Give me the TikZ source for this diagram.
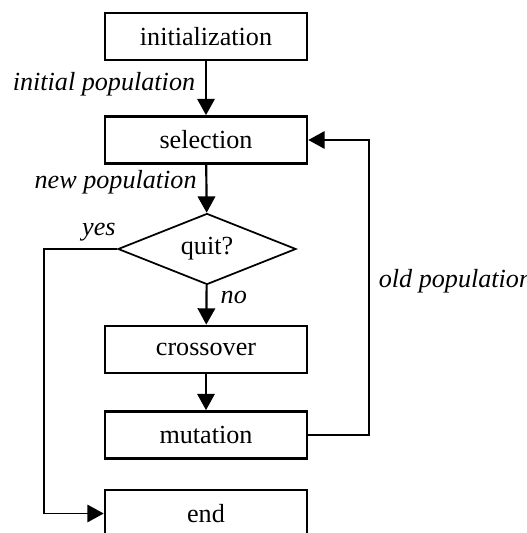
\documentclass[tikz,border=0pt]{standalone}
\usepackage{fontspec}
\setmainfont{Liberation Serif}
\usetikzlibrary{shapes.geometric,arrows.meta}

\begin{document}
\begin{tikzpicture}[x=0.459pt,y=-0.459pt,
    font=\fontsize{12}{14}\selectfont,
    box/.style={draw, line width=1.2pt, minimum width=92.7pt, minimum height=21.6pt, inner sep=0pt},
    test/.style={draw, diamond, line width=0.8pt, minimum width=81.7pt, minimum height=32.6pt, inner sep=0pt, aspect=2.5},
    flow/.style={line width=1pt, -{Triangle[width=8pt,length=7.5pt]}},
    back/.style={line width=0.8pt, -{Triangle[width=8pt,length=7.5pt]}},
    lbl/.style={font=\fontsize{12}{14}\selectfont\itshape, inner sep=2pt}]
        \useasboundingbox (0,0) rectangle (526,533);

        % Draw steps
        \node[box] (init) at (206,36.5) {initialization};
        \node[box] (sel) at (206,140) {selection};
        \node[test] (quit) at (207,249) {quit?};
        \node[box] (cross) at (206,349.5) {crossover};
        \node[box] (mut) at (206,435) {mutation};
        \node[box] (end) at (206,513.5) {end};

        % Draw main flow
        \draw[flow] (init) -- node[lbl, left, pos=0.42, xshift=-2.5pt] {initial population} (sel);
        \draw[flow] (sel) -- node[lbl, left, pos=0.36, xshift=-2pt] {new population} (quit);
        \draw[flow] (quit) -- node[lbl, right, pos=0.31, xshift=4pt] {no} (cross);
        \draw[flow] (cross) -- (mut);

        % Draw exit and loop back
        \draw[back] (quit.west) -- node[lbl, above, pos=0.25, yshift=1pt] {yes} ++(-73,0) |- (end.west);
        \draw[back] (mut.east) -- ++(61,0) |- node[lbl, right, pos=0.26, xshift=2pt] {old population} (sel.east);
    \end{tikzpicture}
\end{document}
